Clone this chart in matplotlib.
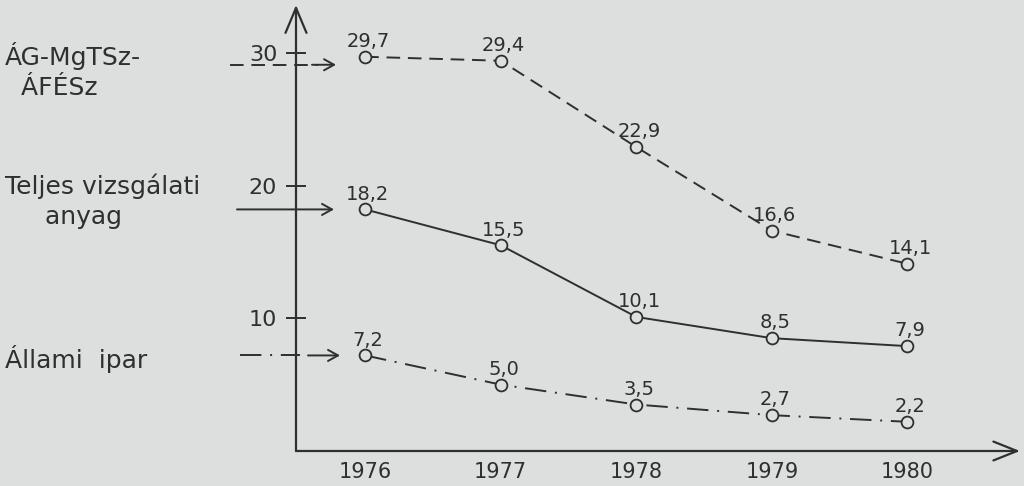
import matplotlib
matplotlib.use("Agg")
import matplotlib.pyplot as plt
from matplotlib.lines import Line2D
from matplotlib.transforms import blended_transform_factory, ScaledTranslation

# ---- data ----
years = [1976, 1977, 1978, 1979, 1980]
year_labels = ["1976", "1977", "1978", "1979", "1980"]
ag_mgtsz_afesz = [29.7, 29.4, 22.9, 16.6, 14.1]
teljes = [18.2, 15.5, 10.1, 8.5, 7.9]
allami = [7.2, 5.0, 3.5, 2.7, 2.2]
y_ticks = [10, 20, 30]
y_tick_labels = ["10", "20", "30"]
series_names = ["ÁG-MgTSz-\n  ÁFÉSz", "Teljes vizsgálati\n     anyag", "Állami  ipar"]

# ---- style ----
BG = "#dcdfde"
INK = "#2f2f2f"
plt.rcParams["font.family"] = ["DejaVu Sans"]
W, H = 1024, 486

fig = plt.figure(figsize=(W / 100, H / 100), dpi=100, facecolor=BG)
ax = fig.add_axes([296 / W, 1 - 451 / H, 724 / W, 446 / H], facecolor=BG)
ax.set_xlim(1975.49, 1980.83)
ax.set_ylim(0, 33.6)
for s in ax.spines.values():
    s.set_visible(False)

# axes as arrows
arrow_kw = dict(color=INK, lw=1.6, shrinkA=0, shrinkB=0)
ax.annotate("", xy=(0, 1), xytext=(0, 0), xycoords="axes fraction",
            arrowprops=dict(arrowstyle="->,head_length=1.0,head_width=0.42",
                            mutation_scale=18, **arrow_kw), annotation_clip=False)
ax.annotate("", xy=(1, 0), xytext=(0, 0), xycoords="axes fraction",
            arrowprops=dict(arrowstyle="->,head_length=1.0,head_width=0.4",
                            mutation_scale=17, **arrow_kw), annotation_clip=False)

ax.set_yticks(y_ticks)
ax.set_yticklabels(y_tick_labels)
ax.tick_params(axis="y", direction="inout", length=14, width=1.4, color=INK,
               labelcolor=INK, labelsize=16, pad=6.5)
ax.set_xticks(years)
ax.set_xticklabels(year_labels)
ax.tick_params(axis="x", length=0, labelcolor=INK, labelsize=15, pad=8)

styles = [
    dict(linestyle=(0, (7, 4))),
    dict(linestyle="-"),
    dict(linestyle=(0, (11, 4.5, 1, 4.5))),
]
all_series = [ag_mgtsz_afesz, teljes, allami]

for vals, st in zip(all_series, styles):
    ax.plot(years, vals, color=INK, lw=1.4, marker="o", markersize=8.5,
            markerfacecolor=BG, markeredgecolor=INK, markeredgewidth=1.3,
            clip_on=False, **st)
    for x, v in zip(years, vals):
        ax.annotate(f"{v:.1f}".replace(".", ","), xy=(x, v), xytext=(2, 7),
                    textcoords="offset points", ha="center", va="baseline",
                    fontsize=14, color=INK)

# left labels
label_pos = [(5 / W, 1 - 95 / H), (5 / W, 1 - 224 / H), (5 / W, 1 - 368 / H)]
for (lx, ly), name in zip(label_pos, series_names):
    fig.text(lx, ly, name, fontsize=18, color=INK, ha="left", va="baseline",
             linespacing=1.3)

# pointer arrows from labels toward first points
trans = blended_transform_factory(fig.transFigure, ax.transData)
trans_low = trans + ScaledTranslation(0, -8 / 100, fig.dpi_scale_trans)
head = dict(arrowprops=dict(arrowstyle="->,head_length=0.45,head_width=0.25",
                            mutation_scale=16, color=INK, lw=1.4,
                            shrinkA=0, shrinkB=0), annotation_clip=False)
# dashed
ax.add_line(Line2D([230 / W, 318 / W], [ag_mgtsz_afesz[0]] * 2, transform=trans_low,
                   color=INK, lw=1.4, linestyle=(0, (7, 4)), clip_on=False))
ax.annotate("", xy=(336 / W, ag_mgtsz_afesz[0]), xytext=(312 / W, ag_mgtsz_afesz[0]),
            xycoords=trans_low, textcoords=trans_low, **head)
# solid
ax.annotate("", xy=(334 / W, teljes[0]), xytext=(237 / W, teljes[0]),
            xycoords=trans, textcoords=trans, **head)
# dash-dot
ax.add_line(Line2D([240 / W, 300 / W], [allami[0]] * 2, transform=trans,
                   color=INK, lw=1.4, linestyle=(0, (11, 4.5, 1, 4.5)), clip_on=False))
ax.annotate("", xy=(340 / W, allami[0]), xytext=(308 / W, allami[0]),
            xycoords=trans, textcoords=trans, **head)

fig.savefig("out.png", dpi=100, facecolor=BG)
